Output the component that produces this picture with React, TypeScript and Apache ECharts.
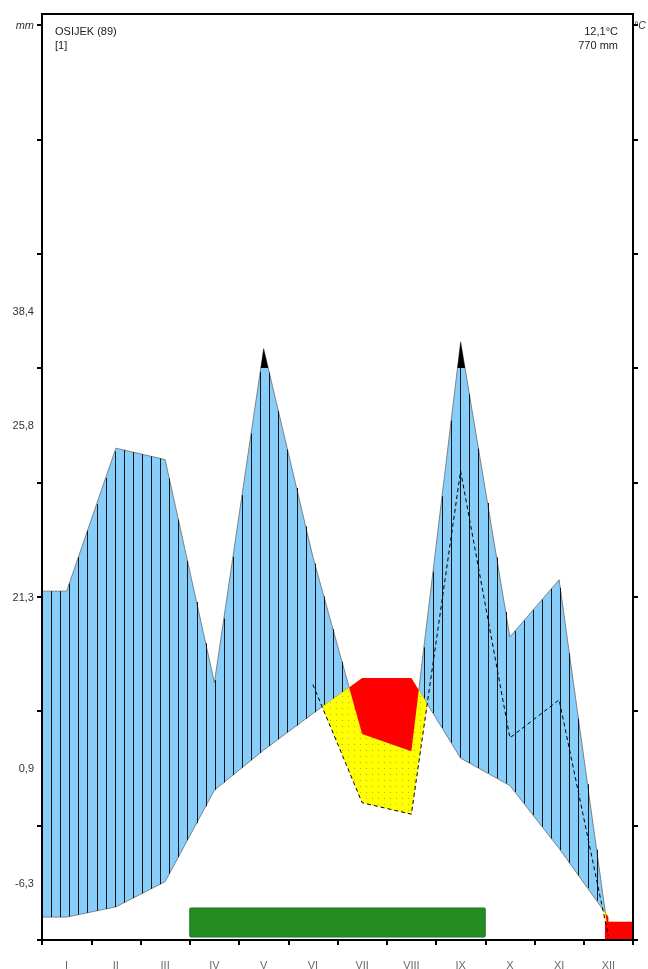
import React, { useEffect, useRef } from "react";
import * as echarts from "echarts";

// ---- data ----
const months = ["I", "II", "III", "IV", "V", "VI", "VII", "VIII", "IX", "X", "XI", "XII"];
const temperature = [2.0, 2.9, 5.1, 13.1, 16.6, 19.8, 22.9, 22.9, 15.9, 13.5, 8.0, 2.0]; // °C
const precipitation = [61, 86, 84, 45, 117, 67, 36, 33, 123, 53, 63, 1]; // mm
const dashedStartMonth = 5; // VI: 1:3 precipitation curve drawn from here
const growingSeason = [3, 9]; // month boundaries (start of IV – end of IX)
const frostSpan = [11.43, 12];
const yTicks = [0, 10, 20, 30, 40, 50, 60, 70, 80];
const leftLabelValues = [55, 45, 30, 15, 5];
const leftLabels = ["38,4", "25,8", "21,3", "0,9", "-6,3"];
const stationName = "OSIJEK (89)";
const stationNote = "[1]";
const meanTemp = "12,1°C";
const totalPrec = "770 mm";

// Walter–Lieth scale: 10 °C = 20 mm, above 100 mm compressed 1:10
const toScale2 = (mm: number) => (mm <= 100 ? mm / 2 : 50 + (mm - 100) / 10);
const toScale3 = (mm: number) => mm / 3;
const CAP = 50;
const Y_MAX = 80.96;

const xs = [0, ...months.map((_, i) => i + 0.5)];
const Tn = [temperature[0], ...temperature];
const Pn = [toScale2(precipitation[0]), ...precipitation.map(toScale2)];
const P3n: (number | null)[] = [null, ...precipitation.map((v, i) => (i >= dashedStartMonth ? toScale3(v) : null))];
const capLine = xs.map(() => CAP);

function regions(x: number[], up: (number | null)[], lo: (number | null)[]): number[][][] {
  const polys: number[][][] = [];
  let top: number[][] | null = null;
  let bot: number[][] = [];
  for (let i = 0; i < x.length; i++) {
    const u = up[i];
    const l = lo[i];
    if (u == null || l == null) {
      if (top) {
        polys.push(top.concat(bot.slice().reverse()));
        top = null;
        bot = [];
      }
      continue;
    }
    const d = u - l;
    const prevOk = i > 0 && up[i - 1] != null && lo[i - 1] != null;
    if (prevOk) {
      const dp = (up[i - 1] as number) - (lo[i - 1] as number);
      if (dp > 0 !== d > 0) {
        const t = dp / (dp - d);
        const l0 = lo[i - 1] as number;
        const cx = x[i - 1] + t * (x[i] - x[i - 1]);
        const cy = l0 + t * (l - l0);
        if (top) {
          top.push([cx, cy]);
          polys.push(top.concat(bot.slice().reverse()));
          top = null;
          bot = [];
        } else {
          top = [[cx, cy]];
          bot = [];
        }
      }
    }
    if (d > 0) {
      if (!top) {
        top = [];
        bot = [];
      }
      top.push([x[i], u]);
      bot.push([x[i], l]);
    }
  }
  if (top) polys.push(top.concat(bot.slice().reverse()));
  return polys;
}

function interp(x: number[], v: number[], at: number): number {
  if (at <= x[0]) return v[0];
  for (let i = 1; i < x.length; i++) {
    if (at <= x[i]) {
      const t = (at - x[i - 1]) / (x[i] - x[i - 1]);
      return v[i - 1] + t * (v[i] - v[i - 1]);
    }
  }
  return v[v.length - 1];
}

function inside(pt: number[], poly: number[][]): boolean {
  let r = false;
  for (let i = 0, j = poly.length - 1; i < poly.length; j = i++) {
    const xi = poly[i][0], yi = poly[i][1], xj = poly[j][0], yj = poly[j][1];
    if (yi > pt[1] !== yj > pt[1] && pt[0] < ((xj - xi) * (pt[1] - yi)) / (yj - yi) + xi) r = !r;
  }
  return r;
}

const FONT = "'Liberation Sans', Arial, sans-serif";

export default function App() {
  const ref = useRef<HTMLDivElement>(null);
  useEffect(() => {
    if (!ref.current) return;
    const chart = echarts.init(ref.current, null, { renderer: "svg", width: 648, height: 969 });

    const bluePolys = regions(xs, Pn, Tn);
    const blackPolys = regions(xs, Pn, capLine);
    const redPolys = regions(xs, Tn, Pn);
    const yellowPolys = regions(xs, Tn, P3n);

    const labelMap: Record<number, string> = {};
    leftLabelValues.forEach((v, i) => (labelMap[v] = leftLabels[i]));

    const option: any = {
      animation: false,
      grid: {
        left: 42,
        right: 15,
        top: 14,
        bottom: 29,
        show: true,
        borderColor: "#000",
        borderWidth: 2,
        z: 5,
        containLabel: false,
        outerBoundsMode: "none",
      },
      xAxis: [
        {
          type: "value",
          min: 0,
          max: 12,
          interval: 1,
          z: 5,
          axisLine: { show: true, onZero: false, lineStyle: { color: "#000", width: 2 } },
          axisTick: { show: true, length: 5, lineStyle: { color: "#000", width: 2 } },
          axisLabel: { show: false },
          splitLine: { show: false },
        },
        {
          type: "category",
          position: "bottom",
          data: months,
          boundaryGap: true,
          axisLine: { show: false },
          axisTick: { show: false },
          axisLabel: { margin: 19, color: "#666a70", fontSize: 11, fontFamily: FONT },
        },
      ],
      yAxis: [
        {
          type: "value",
          min: 0,
          max: Y_MAX,
          position: "left",
          z: 5,
          axisLine: { show: true, onZero: false, lineStyle: { color: "#000", width: 2 } },
          axisTick: { show: true, length: 5, customValues: yTicks, lineStyle: { color: "#000", width: 2 } },
          splitLine: { show: false },
          axisLabel: {
            customValues: [...leftLabelValues, yTicks[yTicks.length - 1]],
            margin: 8,
            color: "#333",
            fontSize: 11,
            fontFamily: FONT,
            formatter: (v: number) => (Math.abs(v - 80) < 0.01 ? "{i|mm}" : labelMap[Math.round(v)] || ""),
            rich: { i: { fontStyle: "italic", fontSize: 11, color: "#333", fontFamily: FONT } },
          },
        },
        {
          type: "value",
          min: 0,
          max: Y_MAX,
          position: "right",
          z: 5,
          axisLine: { show: true, onZero: false, lineStyle: { color: "#000", width: 2 } },
          axisTick: { show: true, length: 5, customValues: yTicks, lineStyle: { color: "#000", width: 2 } },
          splitLine: { show: false },
          axisLabel: {
            customValues: [yTicks[yTicks.length - 1]],
            margin: 1,
            color: "#333",
            fontSize: 10.5,
            fontFamily: FONT,
            formatter: () => "{i|°C}",
            rich: { i: { fontStyle: "italic", fontSize: 10.5, color: "#333", fontFamily: FONT } },
          },
        },
      ],
      graphic: [
        { type: "text", left: 55, top: 25, style: { text: stationName, font: `11px ${FONT}`, fill: "#222" } },
        { type: "text", left: 55, top: 39, style: { text: stationNote, font: `11px ${FONT}`, fill: "#222" } },
        { type: "text", right: 30, top: 25, style: { text: meanTemp, font: `11px ${FONT}`, fill: "#222", textAlign: "right" } },
        { type: "text", right: 30, top: 39, style: { text: totalPrec, font: `11px ${FONT}`, fill: "#222", textAlign: "right" } },
      ],
      series: [
        {
          type: "custom",
          xAxisIndex: 0,
          yAxisIndex: 0,
          z: 2,
          data: [[0, 0]],
          renderItem: (_p: any, api: any) => {
            const c = (p: number[]) => api.coord(p);
            const children: any[] = [];
            bluePolys.forEach((p) =>
              children.push({ type: "polygon", shape: { points: p.map(c) }, style: { fill: "#87CEFA", stroke: "#6b6b6b", lineWidth: 0.8 } })
            );
            for (let k = 0; k <= 65; k++) {
              const x = (k * 12) / 65;
              const t = interp(xs, Tn, x);
              const pp = interp(xs, Pn, x);
              if (pp > t) {
                const a = c([x, t]);
                const b = c([x, Math.min(pp, CAP)]);
                const px = Math.round(a[0]) + 0.5;
                children.push({ type: "line", shape: { x1: px, y1: a[1], x2: px, y2: b[1] }, style: { stroke: "#151515", lineWidth: 1 } });
              }
            }
            blackPolys.forEach((p) => children.push({ type: "polygon", shape: { points: p.map(c) }, style: { fill: "#000" } }));
            yellowPolys.forEach((p) => {
              const pts = p.map(c);
              children.push({ type: "polygon", shape: { points: pts }, style: { fill: "#FFFF00" } });
              let minX = Infinity, maxX = -Infinity, minY = Infinity, maxY = -Infinity;
              pts.forEach((q: number[]) => {
                minX = Math.min(minX, q[0]); maxX = Math.max(maxX, q[0]);
                minY = Math.min(minY, q[1]); maxY = Math.max(maxY, q[1]);
              });
              for (let yy = Math.ceil(minY / 6) * 6; yy <= maxY; yy += 6) {
                for (let xx = Math.ceil(minX / 6) * 6; xx <= maxX; xx += 6) {
                  if (inside([xx, yy], pts))
                    children.push({ type: "rect", shape: { x: xx, y: yy, width: 1, height: 1 }, style: { fill: "#a8a878" } });
                }
              }
            });
            redPolys.forEach((p) => children.push({ type: "polygon", shape: { points: p.map(c) }, style: { fill: "#FF0000" } }));
            return { type: "group", children };
          },
        },
        {
          type: "line",
          xAxisIndex: 0,
          yAxisIndex: 0,
          z: 3,
          symbol: "none",
          data: xs.map((x, i) => [x, P3n[i]]).filter((d) => d[1] != null),
          lineStyle: { color: "#000", width: 1, type: [4, 3] },
        },
        {
          type: "custom",
          xAxisIndex: 0,
          yAxisIndex: 0,
          z: 3,
          data: [[growingSeason[0], growingSeason[1], 0]],
          renderItem: (_p: any, api: any) => {
            const a = api.coord([api.value(0), 2.8]);
            const b = api.coord([api.value(1), 0.26]);
            return {
              type: "rect",
              shape: { x: a[0], y: a[1], width: b[0] - a[0], height: b[1] - a[1], r: 1 },
              style: { fill: "#228B22", stroke: "#1f7a2a", lineWidth: 1 },
            };
          },
        },
        {
          type: "custom",
          xAxisIndex: 0,
          yAxisIndex: 0,
          z: 3,
          data: [[frostSpan[0], frostSpan[1], 0]],
          renderItem: (_p: any, api: any) => {
            const a = api.coord([api.value(0), 1.6]);
            const b = api.coord([api.value(1), 0]);
            return {
              type: "rect",
              shape: { x: a[0], y: a[1], width: b[0] - a[0], height: b[1] - a[1] },
              style: { fill: "#FF0000" },
            };
          },
        },
      ],
    };
    chart.setOption(option);
    return () => chart.dispose();
  }, []);
  return <div ref={ref} style={{ position: "fixed", left: 0, top: 0, width: 648, height: 969 }} />;
}
